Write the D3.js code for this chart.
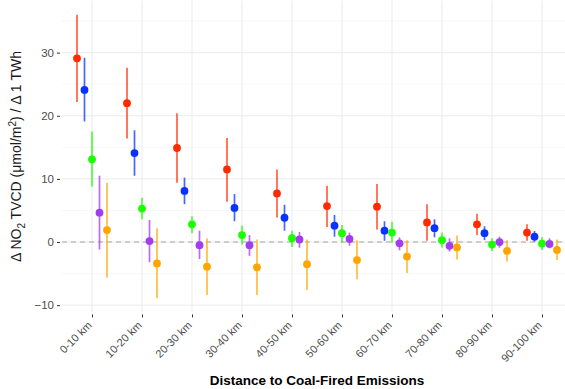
<!DOCTYPE html>
<html><head><meta charset="utf-8">
<script src="https://cdn.jsdelivr.net/npm/d3@7"></script>
<style>body{margin:0;background:#fff}svg{display:block}text{font-family:"Liberation Sans",Arial,sans-serif}</style>
</head><body><svg id="c" width="565" height="389"></svg>
<script>
const categories = ["0-10 km","10-20 km","20-30 km","30-40 km","40-50 km","50-60 km","60-70 km","70-80 km","80-90 km","90-100 km"];
const seriesNames = ["red","blue","green","purple","orange"];
const seriesColors = ["#ff2a00","#0a32ff","#1aff00","#a23cf0","#ffa500"];
// estimates, lower, upper for each series
const redEst   = [29.1, 22.0, 14.9, 11.5, 7.7, 5.7, 5.6, 3.1, 2.8, 1.5];
const redLo    = [22.2, 16.4, 9.4, 6.4, 3.9, 2.4, 2.0, 0.2, 1.1, 0.2];
const redHi    = [36.0, 27.6, 20.4, 16.5, 11.5, 8.9, 9.2, 6.0, 4.5, 2.8];
const blueEst  = [24.1, 14.1, 8.1, 5.4, 3.85, 2.6, 1.8, 2.2, 1.4, 0.85];
const blueLo   = [19.1, 10.5, 6.0, 3.3, 1.8, 0.85, 0.2, 0.75, 0.3, 0.05];
const blueHi   = [29.2, 17.7, 10.2, 7.6, 5.9, 4.3, 3.3, 3.6, 2.5, 1.75];
const greenEst = [13.1, 5.3, 2.8, 1.1, 0.6, 1.4, 1.5, 0.3, -0.4, -0.25];
const greenLo  = [8.8, 3.6, 1.4, -0.4, -0.8, -0.1, -0.1, -0.85, -1.4, -1.25];
const greenHi  = [17.5, 7.0, 4.1, 2.6, 1.8, 2.7, 3.2, 1.5, 0.6, 0.75];
const purpEst  = [4.65, 0.15, -0.5, -0.5, 0.4, 0.5, -0.2, -0.6, 0.0, -0.3];
const purpLo   = [-1.2, -3.2, -2.7, -2.2, -0.9, -0.6, -1.3, -1.5, -0.9, -1.0];
const purpHi   = [10.5, 3.5, 1.8, 1.1, 1.6, 1.5, 0.75, 0.6, 0.85, 0.6];
const orangeEst= [1.9, -3.4, -3.9, -4.0, -3.5, -2.85, -2.3, -0.85, -1.4, -1.25];
const orangeLo = [-5.6, -8.9, -8.4, -8.4, -7.6, -5.9, -4.9, -2.75, -3.1, -2.85];
const orangeHi = [9.4, 2.2, 0.6, 0.4, 0.4, 0.3, 0.3, 1.05, 0.3, 0.4];
const yTicks = [-10, 0, 10, 20, 30];
const yMinor = [-5, 5, 15, 25, 35];

const est = [redEst, blueEst, greenEst, purpEst, orangeEst];
const lo = [redLo, blueLo, greenLo, purpLo, orangeLo];
const hi = [redHi, blueHi, greenHi, purpHi, orangeHi];
const data = [];
seriesNames.forEach((s, si) => categories.forEach((c, ci) => {
  data.push({s, si, c, v: est[si][ci], lo: lo[si][ci], hi: hi[si][ci]});
}));

const svg = d3.select("#c");
const P = {l: 62, r: 572, t: 0.6, b: 312.4};
const x = d3.scalePoint().domain(categories).range([P.l, P.r]).padding(0.6);
const step = x.step();
const dodge = d3.scaleBand().domain(seriesNames).range([-0.375 * step, 0.375 * step]);
const allV = data.flatMap(d => [d.lo, d.hi]);
const ext = d3.extent(allV), pad = (ext[1] - ext[0]) * 0.05;
const y = d3.scaleLinear().domain([ext[0] - pad, ext[1] + pad]).range([P.b, P.t]);

const g = svg.append("g");
// grid
g.selectAll(".minor").data(yMinor).join("line")
  .attr("x1", P.l).attr("x2", P.r).attr("y1", d => y(d)).attr("y2", d => y(d))
  .attr("stroke", "#f3f3f3").attr("stroke-width", 0.7);
g.selectAll(".major").data(yTicks).join("line")
  .attr("x1", P.l).attr("x2", P.r).attr("y1", d => y(d)).attr("y2", d => y(d))
  .attr("stroke", "#ebebeb").attr("stroke-width", 1);
g.selectAll(".vmajor").data(categories).join("line")
  .attr("x1", d => x(d)).attr("x2", d => x(d)).attr("y1", P.t).attr("y2", P.b)
  .attr("stroke", "#ebebeb").attr("stroke-width", 1);
// zero line
g.append("line").attr("x1", P.l).attr("x2", P.r).attr("y1", y(0)).attr("y2", y(0))
  .attr("stroke", "#a6a6a6").attr("stroke-width", 1.1).attr("stroke-dasharray", "5,4");

// axes
const yAxis = d3.axisLeft(y).tickValues(yTicks).tickSize(3).tickPadding(3);
const ya = svg.append("g").attr("transform", `translate(${P.l - 2},0)`).call(yAxis);
ya.select(".domain").remove();
ya.selectAll("line").attr("stroke", "#333").attr("stroke-width", 1);
ya.selectAll("text").attr("fill", "#4d4d4d").style("font-size", "11.5px");

const xAxis = d3.axisBottom(x).tickSize(3).tickPadding(4);
const xa = svg.append("g").attr("transform", `translate(0,${P.b + 2})`).call(xAxis);
xa.select(".domain").remove();
xa.selectAll("line").attr("stroke", "#333").attr("stroke-width", 1);
xa.selectAll("text").attr("fill", "#4d4d4d").style("font-size", "11px")
  .attr("text-anchor", "end").attr("dy", "0.35em")
  .attr("transform", "translate(0,6) rotate(-45) translate(-4,0)").attr("y", 0).attr("x", 0);

// error bars and points
const px = d => x(d.c) + dodge(d.s) + dodge.bandwidth() / 2;
g.selectAll(".err").data(data).join("line")
  .attr("x1", px).attr("x2", px).attr("y1", d => y(d.lo)).attr("y2", d => y(d.hi))
  .attr("stroke", d => seriesColors[d.si]).attr("stroke-opacity", 0.75).attr("stroke-width", 1.7);
g.selectAll(".pt").data(data).join("circle")
  .attr("cx", px).attr("cy", d => y(d.v)).attr("r", 3.9)
  .attr("fill", d => seriesColors[d.si]);

// titles
svg.append("text").attr("transform", `translate(21,${(P.t + P.b) / 2}) rotate(-90)`)
  .attr("text-anchor", "middle").style("font-size", "14px").attr("fill", "#1a1a1a")
  .html('Δ NO<tspan dy="4" font-size="10px">2</tspan><tspan dy="-4"> TVCD (μmol/m</tspan><tspan dy="-5" font-size="10px">2</tspan><tspan dy="5">) / Δ 1 TWh</tspan>');
svg.append("text").attr("x", (P.l + P.r) / 2).attr("y", 385)
  .attr("text-anchor", "middle").style("font-size", "13.5px").style("font-weight", "bold")
  .attr("fill", "#000").text("Distance to Coal-Fired Emissions");
</script></body></html>
